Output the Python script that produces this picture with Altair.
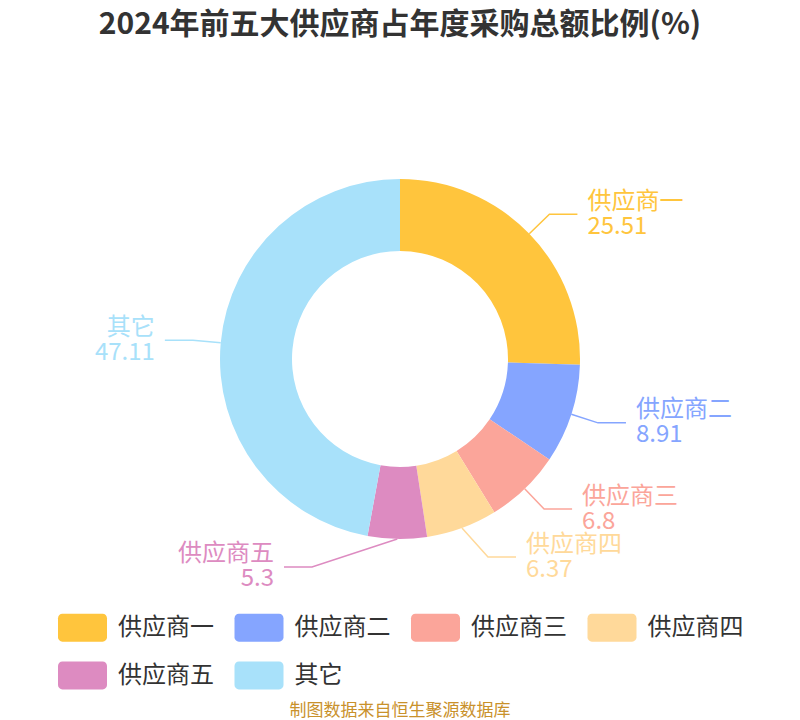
import math
import altair as alt
import pandas as pd

# ---- data ----
names = ["供应商一", "供应商二", "供应商三", "供应商四", "供应商五", "其它"]
values = [25.51, 8.91, 6.8, 6.37, 5.3, 47.11]
value_labels = ["25.51", "8.91", "6.8", "6.37", "5.3", "47.11"]
colors = ["#FFC53D", "#85A5FF", "#FBA59A", "#FFD99A", "#DD8BC1", "#A8E1FA"]

title_text = "2024年前五大供应商占年度采购总额比例(%)"
source_text = "制图数据来自恒生聚源数据库"

FONT = "Noto Sans CJK SC"
W, H = 784, 602
R_OUT, R_IN = 180, 108
L1, L2, GAP, X_MIN = 28, 28, 48, 88
LABEL_SIZE = 24

# ---- slice table ----
slices = pd.DataFrame({"i": range(len(names)), "name": names, "value": values})

# ---- label layout computed from the values (pie-centred frame, y up) ----
total = sum(values)
cum = 0.0
rows = []
for i, (n, v, lab) in enumerate(zip(names, values, value_labels)):
    mid = (cum + v / 2) / total * 2 * math.pi
    cum += v
    s, c = math.sin(mid), math.cos(mid)
    side = 1 if s >= 0 else -1
    rows.append(dict(i=i, name=n, lab=lab, side=side,
                     x0=R_OUT * s, y0=R_OUT * c,
                     x1=(R_OUT + L1) * s, y1=(R_OUT + L1) * c))
# push labels apart vertically on each side
for side in (1, -1):
    items = sorted([r for r in rows if r["side"] == side], key=lambda r: -r["y1"])
    for a, b in zip(items, items[1:]):
        if a["y1"] - b["y1"] < GAP:
            b["y1"] = a["y1"] - GAP
for r in rows:
    # keep the elbow clear of the ring horizontally
    if abs(r["x1"]) < X_MIN:
        r["x1"] = r["side"] * X_MIN
    r["x2"] = r["x1"] + r["side"] * L2
    r["y2"] = r["y1"]
    r["tx"] = r["x2"] + r["side"] * 10
    r["ty_name"] = r["y2"] + 12.5
    r["ty_val"] = r["y2"] - 12.5

line_rows = []
for r in rows:
    for k in range(3):
        line_rows.append(dict(name=r["name"], pt=k, x=r[f"x{k}"], y=r[f"y{k}"]))
lines = pd.DataFrame(line_rows)
labels = pd.DataFrame(rows)

xs = alt.Scale(domain=[-W / 2, W / 2], nice=False, zero=False)
ys = alt.Scale(domain=[-H / 2, H / 2], nice=False, zero=False)

rounded = ("M-0.82,-0.571 H0.82 A0.18,0.18 0 0 1 1,-0.391 V0.391 "
           "A0.18,0.18 0 0 1 0.82,0.571 H-0.82 A0.18,0.18 0 0 1 -1,0.391 "
           "V-0.391 A0.18,0.18 0 0 1 -0.82,-0.571 Z")

color_enc = alt.Color(
    "name:N",
    scale=alt.Scale(domain=names, range=colors),
    legend=alt.Legend(
        orient="none", legendX=50, legendY=545, columns=4, direction="horizontal",
        title=None, symbolType=rounded, symbolSize=2401, symbolStrokeWidth=0,
        symbolOpacity=1, labelFontSize=LABEL_SIZE, labelFont=FONT,
        labelColor="#333333", labelOffset=11, columnPadding=20.5,
        rowPadding=9, labelLimit=200,
    ),
)
color_nolegend = alt.Color("name:N", scale=alt.Scale(domain=names, range=colors), legend=None)

arcs = alt.Chart(slices).mark_arc(outerRadius=R_OUT, innerRadius=R_IN, strokeWidth=0).encode(
    theta=alt.Theta("value:Q", stack=True),
    color=color_enc,
    order=alt.Order("i:Q"),
)

leader = alt.Chart(lines).mark_line(strokeWidth=1.5).encode(
    x=alt.X("x:Q", scale=xs, axis=None),
    y=alt.Y("y:Q", scale=ys, axis=None),
    detail="name:N",
    order="pt:Q",
    color=color_nolegend,
)

def text_layer(side, field, align):
    return alt.Chart(labels).transform_filter(
        alt.datum.side == side
    ).mark_text(align=align, baseline="middle", fontSize=LABEL_SIZE, font=FONT).encode(
        x=alt.X("tx:Q", scale=xs, axis=None),
        y=alt.Y(f"{field}:Q", scale=ys, axis=None),
        text="name:N" if field == "ty_name" else "lab:N",
        color=color_nolegend,
    )

texts = [
    text_layer(1, "ty_name", "left"),
    text_layer(1, "ty_val", "left"),
    text_layer(-1, "ty_name", "right"),
    text_layer(-1, "ty_val", "right"),
]

source = alt.Chart(pd.DataFrame({"t": [source_text]})).mark_text(
    fontSize=17, font=FONT, color="#C9912B", baseline="middle"
).encode(x=alt.value(W / 2), y=alt.value(H + 51), text="t:N")

chart = alt.layer(arcs, leader, *texts, source).properties(
    width=W, height=H,
    padding={"left": 0, "top": 50, "right": 0, "bottom": 60},
    autosize=alt.AutoSizeParams(type="none"),
    title=alt.TitleParams(title_text, fontSize=30, font=FONT, fontWeight="bold",
                          color="#333333", anchor="middle", frame="group", offset=18),
).configure_view(stroke=None).resolve_scale(color="shared")

chart.save("out.html", embed_options={"renderer": "svg", "actions": False})
